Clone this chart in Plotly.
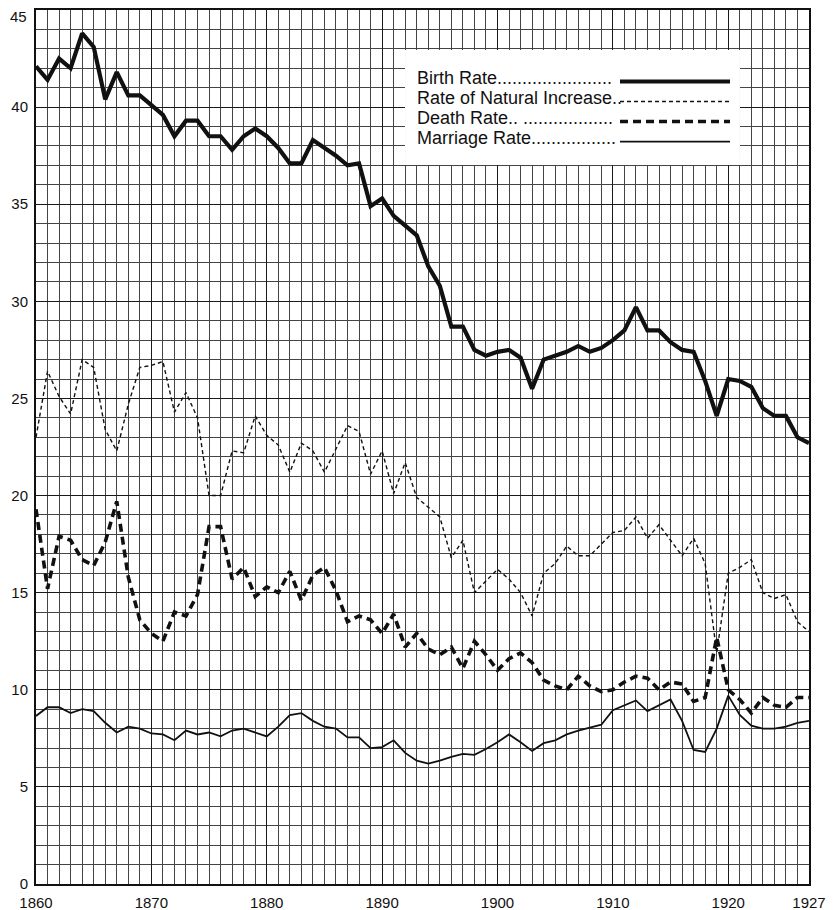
import plotly.graph_objects as go

years = list(range(1860, 1928))

birth_rate = [42.1, 41.4, 42.5, 42.0, 43.8, 43.1, 40.4, 41.8, 40.6, 40.6,
              40.1, 39.6, 38.5, 39.3, 39.3, 38.5, 38.5, 37.8, 38.5, 38.9,
              38.5, 37.9, 37.1, 37.1, 38.3, 37.9, 37.5, 37.0, 37.1, 34.9,
              35.3, 34.4, 33.9, 33.4, 31.8, 30.8, 28.7, 28.7, 27.5, 27.2,
              27.4, 27.5, 27.1, 25.5, 27.0, 27.2, 27.4, 27.7, 27.4, 27.6,
              28.0, 28.5, 29.7, 28.5, 28.5, 27.9, 27.5, 27.4, 25.9, 24.1,
              26.0, 25.9, 25.6, 24.5, 24.1, 24.1, 23.0, 22.7]

natural_increase = [23.0, 26.4, 25.1, 24.2, 27.0, 26.6, 23.4, 22.3, 24.7, 26.6,
                    26.7, 26.9, 24.3, 25.3, 24.0, 20.0, 20.0, 22.3, 22.2, 24.1,
                    23.1, 22.6, 21.2, 22.7, 22.3, 21.2, 22.4, 23.6, 23.3, 21.1,
                    22.3, 20.1, 21.7, 19.9, 19.4, 18.9, 16.8, 17.7, 15.0, 15.6,
                    16.2, 15.7, 15.0, 13.8, 16.0, 16.5, 17.4, 16.9, 16.9, 17.5,
                    18.1, 18.2, 18.9, 17.8, 18.5, 17.7, 16.9, 17.8, 16.5, 11.9,
                    16.0, 16.3, 16.7, 15.0, 14.7, 14.9, 13.5, 13.0]

death_rate = [19.3, 15.2, 17.9, 17.7, 16.7, 16.4, 17.6, 19.7, 15.8, 13.6,
              12.9, 12.5, 14.0, 13.8, 14.9, 18.4, 18.4, 15.7, 16.3, 14.8,
              15.3, 15.0, 16.1, 14.6, 15.9, 16.3, 15.1, 13.5, 13.8, 13.6,
              12.9, 13.9, 12.2, 12.9, 12.1, 11.8, 12.2, 11.1, 12.5, 11.8,
              11.0, 11.6, 11.9, 11.4, 10.5, 10.2, 10.0, 10.7, 10.2, 9.9,
              10.0, 10.4, 10.7, 10.6, 10.0, 10.4, 10.3, 9.4, 9.6, 12.7,
              10.0, 9.5, 8.8, 9.6, 9.2, 9.1, 9.6, 9.6]

marriage_rate = [8.65, 9.1, 9.1, 8.8, 9.0, 8.9, 8.3, 7.8, 8.1, 8.0,
                 7.75, 7.7, 7.4, 7.9, 7.7, 7.8, 7.6, 7.9, 8.0, 7.8,
                 7.6, 8.1, 8.7, 8.8, 8.4, 8.1, 8.0, 7.55, 7.55, 7.0,
                 7.05, 7.4, 6.75, 6.35, 6.2, 6.35, 6.55, 6.7, 6.65, 6.95,
                 7.3, 7.7, 7.3, 6.85, 7.25, 7.4, 7.7, 7.9, 8.05, 8.2,
                 8.95, 9.2, 9.45, 8.9, 9.2, 9.5, 8.4, 6.9, 6.8, 8.0,
                 9.7, 8.7, 8.15, 8.0, 8.0, 8.1, 8.3, 8.4]

x_tick_vals = [1860, 1870, 1880, 1890, 1900, 1910, 1920, 1927]
x_tick_text = ["1860", "1870", "1880", "1890", "1900", "1910", "1920", "1927"]
y_tick_vals = [0, 5, 10, 15, 20, 25, 30, 35, 40]
y_tick_text = ["0", "5", "10", "15", "20", "25", "30", "35", "40"]
y_top_label = "45"

legend_labels = ["Birth Rate", "Rate of Natural Increase", "Death Rate", "Marriage Rate"]
legend_leaders = [".......................", "..", ".. ..................", "................."]

styles = [
    dict(width=4.2, dash="solid"),
    dict(width=1.4, dash="4px,3px"),
    dict(width=3.6, dash="8px,5px"),
    dict(width=1.8, dash="solid"),
]
series = [birth_rate, natural_increase, death_rate, marriage_rate]

FONT = "Liberation Sans, Arial, sans-serif"
fig = go.Figure()
for name, vals, st in zip(legend_labels, series, styles):
    fig.add_trace(go.Scatter(x=years, y=vals, mode="lines", name=name,
                             line=dict(color="#111111", width=st["width"], dash=st["dash"]),
                             showlegend=False))

# legend box (drawn manually to mimic the original layout)
shapes = [dict(type="rect", xref="paper", yref="paper", x0=0.4774, x1=0.9107,
               y0=0.8227, y1=0.9542, fillcolor="white", line=dict(width=0), layer="above")]
annotations = []
row_y = [0.9222, 0.8993, 0.8764, 0.8535]
for lab, lead, st, yy in zip(legend_labels, legend_leaders, styles, row_y):
    annotations.append(dict(xref="paper", yref="paper", x=0.4942, y=yy, xanchor="left",
                            yanchor="middle", text=lab + lead, showarrow=False,
                            borderpad=0, xshift=-2,
                            font=dict(family=FONT, size=18, color="#111111")))
    shapes.append(dict(type="line", xref="paper", yref="paper", x0=0.7555, x1=0.8978,
                       y0=yy - 0.004, y1=yy - 0.004, layer="above",
                       line=dict(color="#111111", width=st["width"], dash=st["dash"])))

# top y label, nudged down slightly so it is not cut by the page edge
annotations.append(dict(xref="paper", yref="paper", x=0, y=0.9931, xanchor="right",
                        yanchor="middle", text=y_top_label, showarrow=False,
                        borderpad=0, xshift=-8,
                        font=dict(family=FONT, size=15, color="#111111")))

axis_common = dict(showgrid=True, gridcolor="#1a1a1a", gridwidth=1.2,
                   showline=True, linecolor="#111111", linewidth=2, mirror=True,
                   ticks="", zeroline=False, automargin=False,
                   ticklabeloverflow="allow",
                   tickfont=dict(family=FONT, size=15, color="#111111"))

# the page body adds an 8px offset, so the figure is sized to fill the rest of the window
fig.update_layout(
    width=826, height=902,
    margin=dict(l=28, r=25, t=2, b=26),
    paper_bgcolor="white", plot_bgcolor="white",
    font=dict(family=FONT, size=15, color="#111111"),
    shapes=shapes, annotations=annotations,
    xaxis=dict(range=[1860, 1927], tickvals=x_tick_vals, ticktext=x_tick_text,
               ticklabelstandoff=4,
               minor=dict(dtick=1, tick0=1860, showgrid=True, gridcolor="#444444", gridwidth=1),
               **axis_common),
    yaxis=dict(range=[0, 45], tickvals=y_tick_vals, ticktext=y_tick_text,
               ticklabelstandoff=3,
               minor=dict(dtick=1, tick0=0, showgrid=True, gridcolor="#444444", gridwidth=1),
               **axis_common),
)

fig.write_html("out.html")
